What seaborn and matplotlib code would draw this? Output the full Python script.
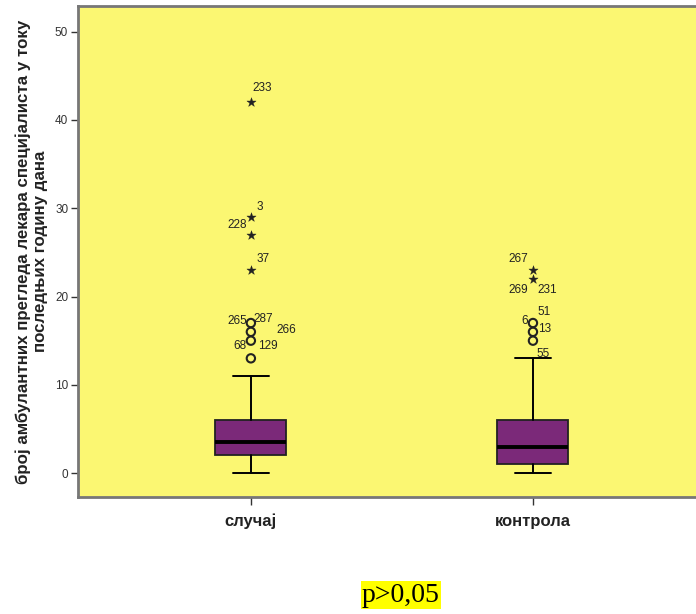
import matplotlib
matplotlib.use("Agg")
import matplotlib.pyplot as plt
import seaborn as sns
import pandas as pd

# Summary statistics per group
groups = ["случај", "контрола"]
q1 = [2, 1]
medians = [3.5, 3]
q3 = [6, 6]
whisker_low = [0, 0]
whisker_high = [11, 13]

# Outliers (circles) and extreme values (stars)
outliers_case = [13, 15, 16, 17]
outliers_control = [15, 16, 17]
extremes_case = [23, 27, 29, 42]
extremes_control = [22, 23]

# Case-number labels: group index, value of the labelled mark, label text
label_group = [0, 0, 0, 0, 0, 0, 0, 0, 0, 1, 1, 1, 1, 1, 1, 1]
label_value = [42, 29, 27, 23, 17, 17, 16, 15, 15, 23, 22, 22, 17, 17, 16, 15]
label_text = ["233", "3", "228", "37", "265", "287", "266", "68", "129",
              "267", "269", "231", "51", "6", "13", "55"]
# label offsets in pixels (dx, dy) and alignment
label_dx = [2, 6, -4, 6, -4, 3, 26, -4, 7, -5, -5, 4, 5, -5, 5, 4]
label_dy = [14, 10, 10, 11, 2, 4, 2, -5, -5, 11, -11, -11, 11, 2, 3, -13]
label_ha = ["left", "left", "right", "left", "right", "left", "left", "right", "left",
            "right", "right", "left", "left", "right", "left", "left"]

ylabel = "број амбулантних прегледа лекара специјалиста у току\nпоследњих годину дана"
yticks = [0, 10, 20, 30, 40, 50]

sns.set_style("white")
plt.rcParams["font.family"] = ["Liberation Sans", "DejaVu Sans"]

bg = "#FBF772"
box_color = "#7B2979"

fig = plt.figure(figsize=(6.96, 6.14), dpi=100)
ax = fig.add_axes([0.112, 0.1906, 0.888, 0.7996])
ax.set_facecolor(bg)

stats = []
for i in range(len(groups)):
    stats.append(dict(med=medians[i], q1=q1[i], q3=q3[i],
                      whislo=whisker_low[i], whishi=whisker_high[i],
                      fliers=[], label=groups[i]))
ax.bxp(stats, positions=[0, 1], widths=0.252, patch_artist=True,
       showfliers=False,
       boxprops=dict(facecolor=box_color, edgecolor="#222222", linewidth=1.3),
       medianprops=dict(color="black", linewidth=2.8),
       whiskerprops=dict(color="black", linewidth=1.4),
       capprops=dict(color="black", linewidth=1.4),
       capwidths=0.127)

# Outlier markers drawn with seaborn
pts = pd.DataFrame({
    "x": [0] * len(outliers_case) + [1] * len(outliers_control)
         + [0] * len(extremes_case) + [1] * len(extremes_control),
    "y": outliers_case + outliers_control + extremes_case + extremes_control,
    "kind": ["o"] * (len(outliers_case) + len(outliers_control))
            + ["*"] * (len(extremes_case) + len(extremes_control)),
})
circ = pts[pts["kind"] == "o"]
star = pts[pts["kind"] == "*"]
sns.scatterplot(data=circ, x="x", y="y", marker="o", s=36, facecolor="none",
                edgecolor="#222222", linewidth=1.5, ax=ax, zorder=5)
sns.scatterplot(data=star, x="x", y="y", marker="*", s=48, color="#222222",
                edgecolor="#222222", linewidth=0.3, ax=ax, zorder=5)

for g, v, t, dx, dy, ha in zip(label_group, label_value, label_text,
                               label_dx, label_dy, label_ha):
    ax.annotate(t, xy=(g, v), xytext=(dx, dy), textcoords="offset pixels",
                ha=ha, va="center", fontsize=8.5, color="#222222")

ax.set_xlim(-0.613, 1.578)
ax.set_ylim(-2.7, 52.9)
ax.set_yticks(yticks)
ax.set_xticks([0, 1])
ax.set_xticklabels(groups, fontsize=12, fontweight="bold", color="#222222")
ax.tick_params(axis="y", labelsize=8.5, labelcolor="#333333", length=5,
               width=1, color="#333333", left=True, direction="out", pad=2)
ax.tick_params(axis="x", length=6, width=1, color="#333333", bottom=True,
               direction="out", pad=6)
ax.set_xlabel("")
ax.set_ylabel(ylabel, fontsize=12.2, fontweight="bold", color="#222222",
              labelpad=5, linespacing=1.15)

for side in ["left", "bottom", "top"]:
    ax.spines[side].set_visible(True)
    ax.spines[side].set_color("#777777")
    ax.spines[side].set_linewidth(2)
ax.spines["right"].set_visible(False)

fig.text(0.576, 0.010, "p>0,05", fontsize=20, family="Liberation Serif",
         ha="center", va="bottom", color="black",
         bbox=dict(facecolor="#FFFF00", edgecolor="none", pad=1.0))

fig.savefig("out.png", dpi=100, facecolor="white")
